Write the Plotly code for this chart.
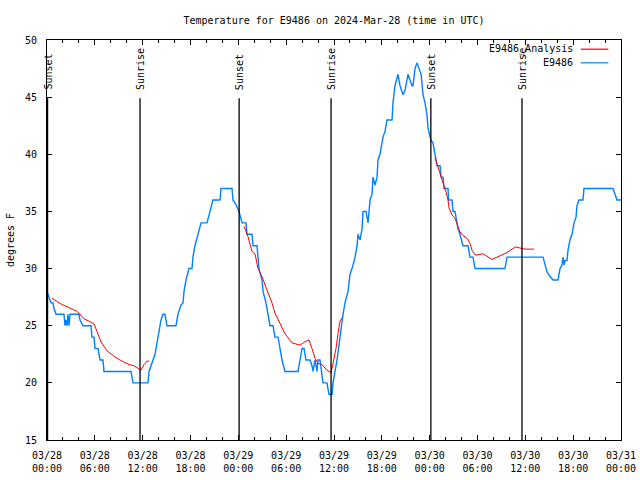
import pandas as pd
import plotly.graph_objects as go

BASE = pd.Timestamp("2024-03-28 00:00")

# Observed series E9486 (hours since 2024-03-28 00:00 UTC, degrees F)
obs_hours = [0.0, 0.25, 0.5, 0.75, 0.88, 1.13, 2.13, 2.26, 2.38, 2.51, 2.63, 2.76, 2.89,
             4.01, 4.14, 4.52, 5.52, 5.64, 5.90, 6.02, 6.40, 6.65, 7.02, 7.15, 10.54, 10.79,
             12.67, 12.80, 13.05, 13.30, 13.55, 13.80, 14.05, 14.30, 14.55, 14.80, 15.05,
             16.18, 16.43, 16.81, 17.06, 17.19, 17.44, 17.81, 18.19, 18.31, 18.56, 18.94,
             19.32, 20.07, 20.45, 20.82, 21.70, 21.83, 23.21, 23.33, 23.71, 24.09, 24.46,
             24.96, 25.09, 25.71, 25.84, 26.34, 26.47, 26.59, 26.97, 27.10, 27.47, 27.72,
             27.97, 28.35, 28.60, 28.98, 29.23, 29.48, 29.85, 31.49, 31.74, 31.99, 32.24,
             32.49, 32.99, 33.24, 33.37, 33.62, 33.87, 33.99, 34.24, 34.43, 34.62, 35.12,
             35.37, 35.75, 35.88, 36.13, 36.38, 36.75, 37.00, 37.13, 37.38, 37.76, 38.01,
             38.26, 38.64, 38.89, 39.01, 39.27, 39.52, 39.64, 40.02, 40.27, 40.52, 40.77,
             40.90, 41.15, 41.40, 41.52, 41.77, 42.02, 42.15, 42.40, 42.65, 43.28, 43.40,
             43.65, 44.03, 44.28, 44.66, 44.91, 45.28, 45.53, 45.79, 45.91, 46.16, 46.41,
             46.66, 46.92, 47.17, 47.42, 47.67, 47.79, 48.17, 48.42, 48.67, 48.92, 49.30,
             49.43, 49.68, 49.80, 50.30, 50.37, 50.80, 50.93, 51.18, 51.43, 51.55, 51.80,
             52.06, 52.18, 52.81, 53.06, 53.44, 53.69, 57.45, 57.70, 62.22, 62.47, 62.72,
             63.10, 63.48, 64.10, 64.35, 64.60, 64.73, 64.85, 64.98, 65.23, 65.35, 65.60,
             65.86, 66.11, 66.36, 66.48, 66.73, 67.23, 67.36, 70.99, 71.24, 71.50, 72.0]
obs_temp = [28, 27.5, 27, 27, 26.5, 26, 26, 25, 25.5, 25, 26, 25, 26,
            26, 25.5, 25, 25, 24, 24, 23, 23, 22, 22, 21, 21, 20,
            20, 21, 21.5, 22, 22.5, 23.5, 24.5, 25.5, 26, 26, 25,
            25, 26, 26.8, 27, 28, 29, 30, 30, 31, 32, 33,
            34, 34, 35, 36, 36, 37, 37, 36, 35.6, 35, 34,
            34, 33, 33, 32, 32, 31, 30, 29, 28, 27, 26,
            25, 25, 24, 24, 23, 22, 21, 21, 22, 23, 23,
            22, 22, 21.5, 21, 22, 21, 22, 22, 21, 20, 20,
            19, 19, 20, 21, 22, 24, 25.5, 26, 27, 28, 29.5,
            30, 31, 32, 33, 32.5, 33.5, 35, 35, 34, 36, 36.5,
            38, 37.3, 38, 39.5, 40, 41, 41.5, 42, 43, 43, 44.5,
            46, 47, 46, 45.2, 45.6, 47, 46.5, 46, 46, 47.5, 48,
            47.5, 47, 45.2, 44.5, 43.4, 42.3, 41.2, 41, 40, 39, 39,
            38, 38, 37, 37, 36, 36, 35, 35, 34, 33.5, 33,
            32.2, 32, 32, 31, 31, 30, 30, 31, 31, 30.2, 29.7,
            29.3, 29, 29, 30, 30.3, 31, 30.3, 30.7, 30.7, 31.6, 32.5,
            33, 34, 34.5, 35.5, 36, 36, 37, 37, 36.4, 36, 36]

# Analysis series E9486_Analysis (three overnight segments, None = gap)
ana_hours = [0.63, 1.76, 3.01, 3.64, 4.01, 4.64, 5.27, 5.90, 6.27, 6.77, 7.53, 8.66, 9.41,
             10.29, 10.91, 11.42, 11.79, 12.17, 12.54, 12.80, None,
             24.71, 25.21, 25.71, 26.09, 26.47, 26.97, 27.60, 28.22, 28.60, 29.23, 29.85,
             30.73, 31.74, 32.36, 32.86, 33.24, 33.62, 33.99, 34.50, 35.12, 35.63, 35.88,
             36.25, 36.50, 36.75, 37.00, None,
             48.67, 49.05, 49.43, 49.68, 50.05, 50.30, 50.43, 50.80, 51.18, 51.55, 51.80,
             52.18, 52.68, 53.06, 53.31, 53.69, 54.07, 54.69, 55.32, 55.82, 56.45, 57.07,
             57.70, 58.33, 58.83, 59.33, 59.96, 61.09]
ana_temp = [27.4, 26.9, 26.5, 26.3, 26.1, 25.6, 25.4, 25.15, 24.5, 23.6, 22.8, 22.2, 21.9,
            21.6, 21.5, 21.3, 21.1, 21.6, 21.9, 21.9, None,
            33.7, 32.8, 31.5, 31.3, 30.0, 29.3, 28.1, 27.0, 26.1, 25.2, 24.3,
            23.5, 23.3, 23.6, 23.75, 23.0, 22.15, 21.7, 21.6, 21.1, 20.9, 21.7,
            23.0, 24.3, 25.4, 25.7, None,
            39.7, 38.9, 37.9, 37.5, 36.7, 36.0, 35.3, 34.7, 34.4, 33.7, 33.2,
            32.9, 32.65, 32.2, 31.6, 31.2, 31.2, 31.3, 31.0, 30.8, 31.0, 31.2,
            31.4, 31.7, 31.9, 31.8, 31.7, 31.7]

# Sun events (hours since 2024-03-28 00:00 UTC)
sun_hours = [0.07, 11.67, 24.10, 35.63, 48.15, 59.58]
sun_labels = ["Sunset", "Sunrise", "Sunset", "Sunrise", "Sunset", "Sunrise"]


def to_time(hours):
    return [None if h is None else BASE + pd.Timedelta(hours=h) for h in hours]


FONT = "DejaVu Sans Mono"
fig = go.Figure()

fig.add_trace(go.Scatter(x=to_time(obs_hours), y=obs_temp, mode="lines", name="E9486",
                         line=dict(color="#0080ff", width=1.4), showlegend=False))
fig.add_trace(go.Scatter(x=to_time(ana_hours), y=ana_temp, mode="lines", name="E9486_Analysis",
                         line=dict(color="#ff0000", width=1.0), connectgaps=False,
                         showlegend=False))

for t, lab in zip(to_time(sun_hours), sun_labels):
    fig.add_shape(type="line", xref="x", yref="y", x0=t, x1=t, y0=15, y1=44.9,
                  line=dict(color="black", width=1.3))
    fig.add_annotation(x=t, y=45.45, xref="x", yref="y", text=lab, textangle=-90,
                       showarrow=False, xanchor="center", yanchor="bottom",
                       font=dict(family=FONT, size=10, color="black"))

# gnuplot-style legend (text right-aligned, sample line on the right)
legend_items = [("E9486_Analysis", "#ff0000", 0.977), ("E9486", "#0080ff", 0.943)]
for name, col, yp in legend_items:
    fig.add_annotation(x=0.919, y=yp, xref="paper", yref="paper", text=name,
                       showarrow=False, xanchor="right", yanchor="middle",
                       font=dict(family=FONT, size=10, color="black"))
    fig.add_shape(type="line", xref="paper", yref="paper", x0=0.93, x1=0.978,
                  y0=yp, y1=yp, line=dict(color=col, width=1.2))

fig.update_layout(
    width=640, height=480,
    margin=dict(l=47, r=19, t=40, b=40),
    paper_bgcolor="white", plot_bgcolor="white",
    font=dict(family=FONT, size=10, color="black"),
    title=dict(text="Temperature for E9486 on 2024-Mar-28 (time in UTC)",
               x=0.5, xref="paper", y=0.958, yanchor="middle",
               font=dict(family=FONT, size=10, color="black")),
)

fig.update_xaxes(
    range=[BASE, BASE + pd.Timedelta(hours=72)],
    tickmode="linear", tick0=BASE, dtick=6 * 3600 * 1000,
    tickformat="%m/%d<br>%H:%M",
    ticks="inside", ticklen=5, tickwidth=1, tickcolor="black",
    minor=dict(dtick=2 * 3600 * 1000, ticks="inside", ticklen=3, tickcolor="black", tickwidth=1),
    showline=True, linecolor="black", linewidth=1, mirror="ticks",
    showgrid=False, zeroline=False, automargin=False, ticklabelstandoff=6,
    tickfont=dict(family=FONT, size=10, color="black"),
)
fig.update_yaxes(
    range=[15, 50], tickmode="linear", tick0=15, dtick=5,
    ticks="inside", ticklen=5, tickwidth=1, tickcolor="black",
    showline=True, linecolor="black", linewidth=1, mirror="ticks",
    showgrid=False, zeroline=False, automargin=False, ticklabelstandoff=7,
    title=dict(text="degrees F", standoff=8, font=dict(family=FONT, size=10, color="black")),
    tickfont=dict(family=FONT, size=10, color="black"),
)

fig.write_html("out.html", post_script="document.body.style.margin='0';",
               config={"displayModeBar": False})
